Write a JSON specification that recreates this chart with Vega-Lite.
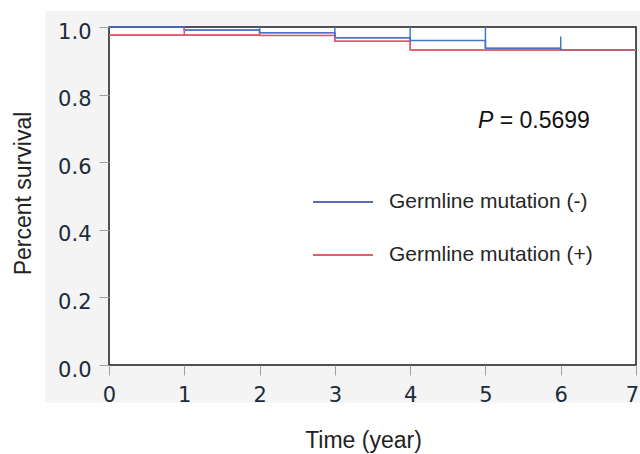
{
  "$schema": "https://vega.github.io/schema/vega-lite/v6.json",
  "autosize": {"type": "none"},
  "width": 527,
  "height": 338,
  "padding": {"left": 109, "top": 27, "right": 4, "bottom": 89},
  "background": "white",
  "config": {"view": {"stroke": null}},
  "datasets": {
    "km": [
      {"group": "Germline mutation (-)", "time": 0, "surv": 1.0},
      {"group": "Germline mutation (-)", "time": 1, "surv": 0.991},
      {"group": "Germline mutation (-)", "time": 2, "surv": 0.983},
      {"group": "Germline mutation (-)", "time": 3, "surv": 0.968},
      {"group": "Germline mutation (-)", "time": 4, "surv": 0.96},
      {"group": "Germline mutation (-)", "time": 5, "surv": 0.937},
      {"group": "Germline mutation (-)", "time": 6, "surv": 0.931},
      {"group": "Germline mutation (-)", "time": 7, "surv": 0.931},
      {"group": "Germline mutation (+)", "time": 0, "surv": 0.976},
      {"group": "Germline mutation (+)", "time": 1, "surv": 0.976},
      {"group": "Germline mutation (+)", "time": 2, "surv": 0.975},
      {"group": "Germline mutation (+)", "time": 3, "surv": 0.958},
      {"group": "Germline mutation (+)", "time": 4, "surv": 0.932},
      {"group": "Germline mutation (+)", "time": 5, "surv": 0.932},
      {"group": "Germline mutation (+)", "time": 6, "surv": 0.932},
      {"group": "Germline mutation (+)", "time": 7, "surv": 0.932}
    ],
    "censor": [
      {"group": "Germline mutation (-)", "time": 2, "lo": 0.983, "hi": 1.0},
      {"group": "Germline mutation (-)", "time": 3, "lo": 0.968, "hi": 1.0},
      {"group": "Germline mutation (-)", "time": 4, "lo": 0.96, "hi": 1.0},
      {"group": "Germline mutation (-)", "time": 5, "lo": 0.937, "hi": 1.0},
      {"group": "Germline mutation (-)", "time": 6, "lo": 0.931, "hi": 0.972},
      {"group": "Germline mutation (+)", "time": 1, "lo": 0.976, "hi": 0.998},
      {"group": "Germline mutation (+)", "time": 2, "lo": 0.975, "hi": 0.983}
    ],
    "one": [{}]
  },
  "resolve": {"scale": {"color": "independent"}},
  "layer": [
    {
      "data": {"name": "one"},
      "mark": {"type": "rect", "fill": "#f4f4f4", "clip": false},
      "encoding": {
        "x": {"datum": -0.85, "type": "quantitative", "scale": {"domain": [0, 7], "nice": false, "zero": false}},
        "x2": {"datum": 7.1},
        "y": {"datum": 1.047, "type": "quantitative", "scale": {"domain": [0, 1], "nice": false, "zero": false}},
        "y2": {"datum": -0.112}
      }
    },
    {
      "data": {"name": "one"},
      "mark": {"type": "rect", "fill": "white", "stroke": "#1a1a1a", "strokeWidth": 1.5, "clip": false},
      "encoding": {
        "x": {"datum": 0, "type": "quantitative"},
        "x2": {"datum": 7},
        "y": {"datum": 1, "type": "quantitative"},
        "y2": {"datum": 0}
      }
    },
    {
      "data": {"name": "km"},
      "mark": {"type": "line", "interpolate": "step-after", "strokeWidth": 1, "clip": false},
      "encoding": {
        "x": {
          "field": "time", "type": "quantitative",
          "axis": {
            "zindex": 1, "domain": false, "grid": false,
            "values": [0, 0.5, 1, 1.5, 2, 2.5, 3, 3.5, 4, 4.5, 5, 5.5, 6, 6.5, 7],
            "labelExpr": "datum.value % 1 == 0 ? format(datum.value, 'd') : ''",
            "tickSize": {"condition": {"test": "datum.value % 1 != 0", "value": 5}, "value": 10},
            "tickColor": "#a0a0a0", "tickWidth": 1,
            "labelFont": "DejaVu Sans", "labelFontSize": 21, "labelColor": "#1c2b3a",
            "labelPadding": 9, "labelBaseline": "top", "labelFlush": false, "labelOverlap": false,
            "labelAlign": "center",
            "labelOffset": {"condition": {"test": "datum.value == 7", "value": -4}, "value": 0},
            "title": "Time (year)", "titleFont": "Liberation Sans", "titleFontSize": 23,
            "titleFontWeight": "normal", "titleColor": "#222222",
            "titleX": 254, "titleY": 75, "titleBaseline": "middle", "titleAlign": "center"
          }
        },
        "y": {
          "field": "surv", "type": "quantitative",
          "axis": {
            "zindex": 1, "domain": false, "grid": false,
            "values": [0, 0.1, 0.2, 0.3, 0.4, 0.5, 0.6, 0.7, 0.8, 0.9, 1.0],
            "labelExpr": "round(datum.value * 10) % 2 == 0 ? format(datum.value, '.1f') : ''",
            "tickSize": {"condition": {"test": "round(datum.value * 10) % 2 != 0", "value": 5}, "value": 10},
            "tickColor": "#a0a0a0", "tickWidth": 1,
            "labelFont": "DejaVu Sans", "labelFontSize": 21, "labelColor": "#1c2b3a",
            "labelPadding": 8, "labelOffset": 5, "labelFlush": false, "labelOverlap": false,
            "title": "Percent survival", "titleFont": "Liberation Sans", "titleFontSize": 23,
            "titleFontWeight": "normal", "titleColor": "#222222",
            "titleX": -86, "titleY": 166, "titleBaseline": "middle", "titleAlign": "center", "titleAngle": -90
          }
        },
        "color": {
          "field": "group", "type": "nominal",
          "scale": {"domain": ["Germline mutation (-)", "Germline mutation (+)"], "range": ["#2b3894", "#d42b3c"]},
          "legend": {
            "orient": "none", "legendX": 203, "legendY": 144, "title": null, "padding": 0,
            "symbolType": "stroke", "symbolSize": 3600, "symbolStrokeWidth": 1.5,
            "labelFont": "Liberation Sans", "labelFontSize": 21, "labelColor": "#262626",
            "labelOffset": 15, "rowPadding": 12, "labelLimit": 400
          }
        }
      }
    },
    {
      "data": {"name": "km"},
      "mark": {"type": "line", "interpolate": "step-after", "strokeWidth": 1.5, "clip": false},
      "encoding": {
        "x": {"field": "time", "type": "quantitative"},
        "y": {"field": "surv", "type": "quantitative"},
        "color": {
          "field": "group", "type": "nominal",
          "scale": {"domain": ["Germline mutation (-)", "Germline mutation (+)"], "range": ["#4a74c9", "#e05561"]},
          "legend": null
        }
      }
    },
    {
      "data": {"name": "censor"},
      "mark": {"type": "rule", "strokeWidth": 1.5},
      "encoding": {
        "x": {"field": "time", "type": "quantitative"},
        "y": {"field": "lo", "type": "quantitative"},
        "y2": {"field": "hi"},
        "color": {
          "field": "group", "type": "nominal",
          "scale": {"domain": ["Germline mutation (-)", "Germline mutation (+)"], "range": ["#4a74c9", "#e05561"]},
          "legend": null
        }
      }
    },
    {
      "data": {"name": "one"},
      "mark": {"type": "text", "text": "P", "fontStyle": "italic", "font": "Liberation Sans", "fontSize": 23, "align": "left", "baseline": "middle", "color": "#111111"},
      "encoding": {
        "x": {"datum": 4.9, "type": "quantitative"},
        "y": {"datum": 0.721, "type": "quantitative"}
      }
    },
    {
      "data": {"name": "one"},
      "mark": {"type": "text", "text": "= 0.5699", "font": "Liberation Sans", "fontSize": 23, "align": "left", "baseline": "middle", "color": "#111111"},
      "encoding": {
        "x": {"datum": 5.19, "type": "quantitative"},
        "y": {"datum": 0.721, "type": "quantitative"}
      }
    }
  ]
}
